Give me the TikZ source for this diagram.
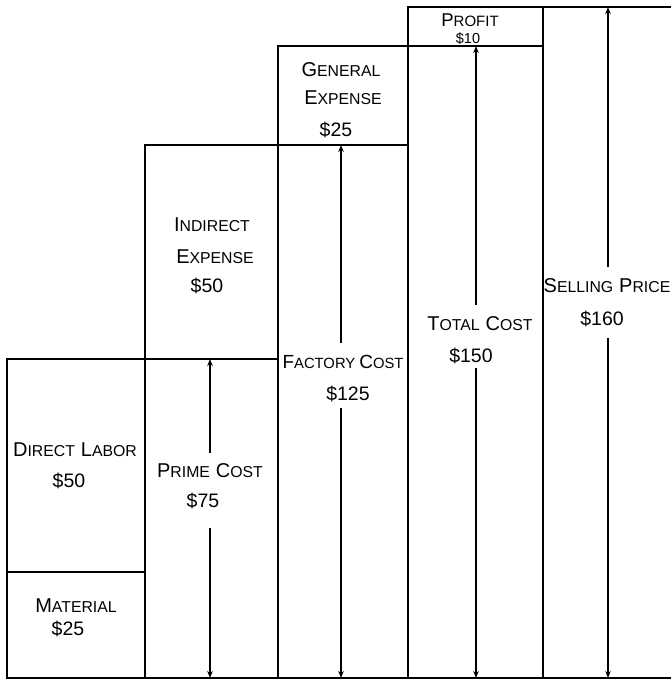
\documentclass[tikz,border=0pt]{standalone}
\usepackage{fontspec}
\setmainfont{Liberation Sans}
\usetikzlibrary{arrows.meta}
\newcommand{\bigL}[1]{{\fontsize{20}{21}\selectfont #1}}
\newcommand{\smL}[1]{{\fontsize{15.8}{16}\selectfont #1}}
\newcommand{\sC}[2]{\bigL{#1}\smL{#2}}
\newcommand{\sCn}[2]{{\fontsize{19}{20}\selectfont #1}{\fontsize{14.8}{15}\selectfont #2}}
\newcommand{\wsp}{\hspace{6pt}}
\newcommand{\amt}[1]{{\fontsize{19.5}{21}\selectfont #1}}
\tikzset{
  boxline/.style={line width=2.3pt, line cap=rect},
  dimarrow/.style={line width=1.6pt, -{Stealth[length=7pt,width=5.5pt]}},
  lab/.style={anchor=base, inner sep=0pt, text=black}
}
\begin{document}
\begin{tikzpicture}[x=1pt,y=-1pt]
\useasboundingbox (0,0) rectangle (671,680);
\fill[white] (0,0) rectangle (671,680);
% outline and dividers
\draw[boxline] (7,678) -- (7,359) -- (145,359) -- (145,145) -- (278,145) -- (278,46) -- (408,46) -- (408,7) -- (671,7);
\draw[boxline] (7,678) -- (671,678);
\draw[boxline] (145,359) -- (145,678);
\draw[boxline] (278,145) -- (278,678);
\draw[boxline] (408,46) -- (408,678);
\draw[boxline] (543,7) -- (543,678);
\draw[boxline] (7,572) -- (145,572);
\draw[boxline] (145,359) -- (278,359);
\draw[boxline] (278,145) -- (408,145);
\draw[boxline] (408,46) -- (543,46);
% labels
\node[lab] (profit) at (470,27) {{\fontsize{18.5}{19}\selectfont P}{\fontsize{15}{15}\selectfont ROFIT}};
\node[lab] (profitamt) at (468,43) {{\fontsize{14.5}{15}\selectfont \$10}};
\node[lab] (general) at (341,76) {\sC{G}{ENERAL}};
\node[lab] (generalexp) at (343,104) {\sC{E}{XPENSE}};
\node[lab] (generalamt) at (336,136) {\amt{\$25}};
\node[lab] (indirect) at (212,231) {\sC{I}{NDIRECT}};
\node[lab] (indirectexp) at (215,263) {\sC{E}{XPENSE}};
\node[lab] (indirectamt) at (207,292) {\amt{\$50}};
\node[lab] (selling) at (607,292) {\sC{S}{ELLING}\wsp\sC{P}{RICE}};
\node[lab] (sellingamt) at (602,325) {\amt{\$160}};
\node[lab] (total) at (480,330) {\sC{T}{OTAL}\wsp\sC{C}{OST}};
\node[lab] (totalamt) at (471,362) {\amt{\$150}};
\node[lab] (factory) at (343,368) {\sCn{F}{ACTORY}\hspace{4pt}\sCn{C}{OST}};
\node[lab] (factoryamt) at (348,400) {\amt{\$125}};
\node[lab] (direct) at (75,456) {\sC{D}{IRECT}\wsp\sC{L}{ABOR}};
\node[lab] (directamt) at (69,487) {\amt{\$50}};
\node[lab] (prime) at (210,477) {\sC{P}{RIME}\wsp\sC{C}{OST}};
\node[lab] (primeamt) at (203,507) {\amt{\$75}};
\node[lab] (material) at (76,612) {\sC{M}{ATERIAL}};
\node[lab] (materialamt) at (68,635) {\amt{\$25}};
% arrow end points
\coordinate (pT) at (210,359); \coordinate (pA) at (210,453);
\coordinate (pB) at (210,528); \coordinate (pE) at (210,678);
\coordinate (fT) at (341,145); \coordinate (fA) at (341,343);
\coordinate (fB) at (341,408); \coordinate (fE) at (341,678);
\coordinate (tT) at (476,46);  \coordinate (tA) at (476,305);
\coordinate (tB) at (476,368); \coordinate (tE) at (476,678);
\coordinate (sT) at (608,7);   \coordinate (sA) at (608,267);
\coordinate (sB) at (608,338); \coordinate (sE) at (608,678);
\draw[dimarrow] (pA) -- (pT); \draw[dimarrow] (pB) -- (pE);
\draw[dimarrow] (fA) -- (fT); \draw[dimarrow] (fB) -- (fE);
\draw[dimarrow] (tA) -- (tT); \draw[dimarrow] (tB) -- (tE);
\draw[dimarrow] (sA) -- (sT); \draw[dimarrow] (sB) -- (sE);
\end{tikzpicture}
\end{document}
